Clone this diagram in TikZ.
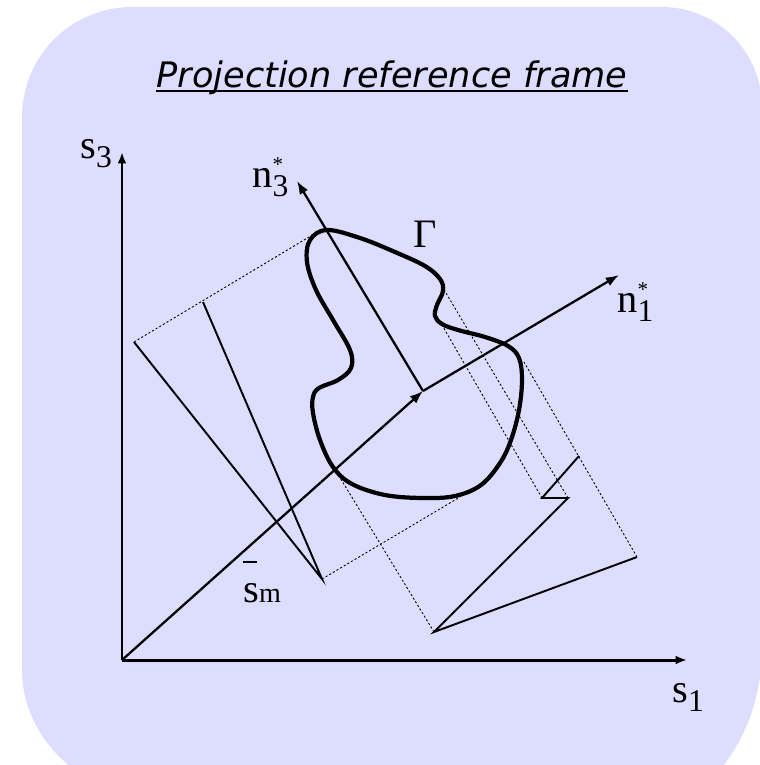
\documentclass[tikz,border=0pt]{standalone}
\usepackage{fontspec}
\setmainfont{Liberation Serif}
\newfontfamily\titlefont{DejaVu Sans}
\usetikzlibrary{arrows.meta}

\definecolor{framebg}{RGB}{221,221,255}

\newcommand\lowidx[1]{\raisebox{-5.5pt}{\fontsize{18}{18}\selectfont #1}}
\newcommand\staridx[1]{\rlap{\raisebox{9pt}{\fontsize{12}{12}\selectfont *}}\lowidx{#1}}
\newcommand\meanlab{\rlap{\raisebox{22pt}{\rule{8pt}{1.1pt}}}s{\fontsize{16}{16}\selectfont m}}
\newcommand\ulinetext[1]{\setbox0\hbox{#1}\rlap{\raisebox{-3pt}{\rule{\wd0}{1.1pt}}}\box0}

\begin{document}
\begin{tikzpicture}[
  x=0.02cm, y=-0.02cm,
  every node/.style={font=\fontsize{23}{27}\selectfont, inner sep=0pt},
  axis/.style={draw, ->, >={Latex[length=6.5pt,width=5pt]}, line width=1.7pt},
  vec/.style={draw, ->, >={Latex[length=7.5pt,width=5.5pt]}, line width=1.3pt},
  proj/.style={draw, line width=1.1pt},
  guide/.style={draw, line width=0.5pt, dash pattern=on 1.2pt off 1.2pt},
  contour/.style={draw, line width=2.4pt}
]
\useasboundingbox (0,0) rectangle (760,765);
\begin{scope}
  \clip (0,0) rectangle (760,765);
  \fill[framebg] (22,400) [rounded corners=2.2cm] -- (22,7) [rounded corners=2cm] -- (762,7)
    [rounded corners=4.2cm] -- (762,858) [rounded corners=2.2cm] -- (22,780) -- cycle;
\end{scope}

\node[font=\titlefont\itshape\fontsize{20}{24}\selectfont, anchor=base] (title) at (392,87)
  {\ulinetext{Projection reference frame}};

% axes s1, s3
\coordinate (o) at (122,660);
\coordinate (s3end) at (122,152);
\coordinate (s1end) at (687,660);
\draw[axis] (o) -- (s3end);
\draw[axis] (o) -- (s1end);

% rotated frame n1*, n3*
\coordinate (c) at (423,391);
\coordinate (n1end) at (619,275);
\coordinate (n3end) at (297,181);
\draw[vec] (o) -- (c);
\draw[vec] (c) -- (n1end);
\draw[vec] (c) -- (n3end);

% contour
\draw[contour] plot[smooth cycle, tension=0.6] coordinates {
  (327,230) (360,238) (395,252) (425,266) (440,279) (443,291) (437,305)
  (435,316) (442,324) (458,330) (485,337) (508,346) (519,358) (522,380)
  (519,410) (511,440) (500,463) (481,485) (455,496) (423,498) (385,495)
  (352,484) (333,467) (320,440) (313,413) (313,397) (319,388) (338,380)
  (351,368) (350,350) (333,320) (316,290) (307,262) (310,240)};

% projection along n1
\coordinate (pa) at (134,342);
\coordinate (pb) at (203,302);
\coordinate (pm) at (322,579);
\coordinate (ta) at (309,237);
\coordinate (tm) at (460,497);
\draw[guide] (pa) -- (ta);
\draw[guide] (pm) -- (tm);
\draw[proj] (pa) -- (pm) -- (pb);

% projection along n3
\coordinate (q) at (434,632);
\coordinate (r) at (637,557);
\coordinate (s) at (568,498);
\coordinate (t) at (542,498);
\coordinate (u) at (579,456);
\coordinate (tq) at (339,476);
\coordinate (ts) at (443,288);
\coordinate (tt) at (442,325);
\coordinate (tr) at (524,362);
\draw[guide] (q) -- (tq);
\draw[guide] (s) -- (ts);
\draw[guide] (t) -- (tt);
\draw[guide] (r) -- (tr);
\draw[proj] (u) -- (t) -- (s) -- (q) -- (r);

% labels
\node[anchor=base west] (s3lab) at (80,158) {s\lowidx{3}};
\node[anchor=base west] (s1lab) at (672,702) {s\lowidx{1}};
\node[anchor=base west] (n1lab) at (617,312) {n\staridx{1}};
\node[anchor=base west] (n3lab) at (252,187) {n\staridx{3}};
\node[anchor=base west] (gamma) at (413,247) {Γ};
\node[anchor=base west] (smlab) at (243,602) {\meanlab};
\end{tikzpicture}
\end{document}
